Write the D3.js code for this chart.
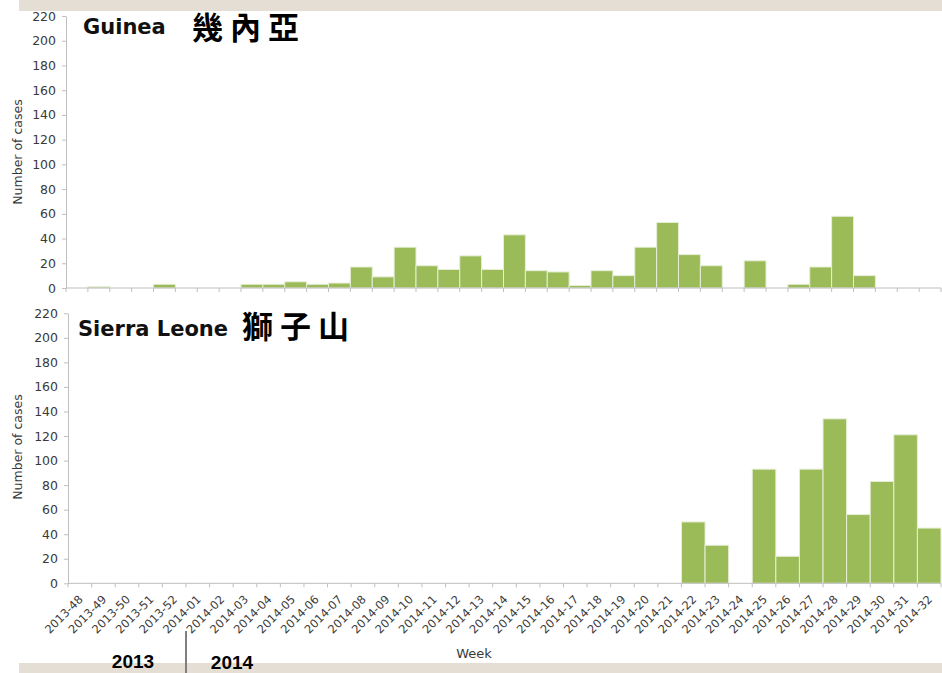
<!DOCTYPE html>
<html>
<head>
<meta charset="utf-8">
<script src="https://cdn.jsdelivr.net/npm/d3@7"></script>
<style>
  html, body { margin: 0; padding: 0; background: #fff; }
  svg { display: block; }
</style>
</head>
<body>
<svg id="chart" width="942" height="673"></svg>
<script>
// ---- Data ----
const weeks = ["2013-48","2013-49","2013-50","2013-51","2013-52",
  "2014-01","2014-02","2014-03","2014-04","2014-05","2014-06","2014-07","2014-08","2014-09","2014-10",
  "2014-11","2014-12","2014-13","2014-14","2014-15","2014-16","2014-17","2014-18","2014-19","2014-20",
  "2014-21","2014-22","2014-23","2014-24","2014-25","2014-26","2014-27","2014-28","2014-29","2014-30",
  "2014-31","2014-32"];
const guineaWeeks = weeks.concat(["2014-33","2014-34","2014-35"]);
const guineaCases = [0,1,0,0,3,0,0,0,3,3,5,3,4,17,9,33,18,15,26,15,43,14,13,2,14,10,
  33,53,27,18,0,22,0,3,17,58,10,0,0,0];
const sierraCases = [0,0,0,0,0,0,0,0,0,0,0,0,0,0,0,0,0,0,0,0,0,0,0,0,0,0,
  50,31,0,93,22,93,134,56,83,121,45];
const yTicks = [0,20,40,60,80,100,120,140,160,180,200,220];
const titlesEn = ["Guinea", "Sierra Leone"];
const titlesZh = ["幾內亞", "獅子山"];
const yTitle = "Number of cases";
const xTitle = "Week";
const years = ["2013", "2014"];

// ---- Drawing ----
const svg = d3.select("#chart");
const barColor = "#9bbb59";
const axisColor = "#bfbfbf";
const textColor = "#3a3a3a";

// beige bands
svg.append("rect").attr("x", 19).attr("y", 0).attr("width", 923).attr("height", 11).attr("fill", "#e4ded4");
svg.append("rect").attr("x", 19).attr("y", 663).attr("width", 923).attr("height", 10).attr("fill", "#e4ded4");

function panel(cfg) {
  const x = d3.scaleBand().domain(cfg.cats).range([cfg.x0, cfg.x1]).padding(0);
  const y = d3.scaleLinear().domain([0, 220]).range([cfg.yb, cfg.yt]);
  const g = svg.append("g");

  // bars
  g.selectAll("rect.bar").data(cfg.values.map((v, i) => ({c: cfg.cats[i], v})).filter(d => d.v > 0))
    .enter().append("rect").attr("class", "bar")
    .attr("x", d => x(d.c))
    .attr("width", x.bandwidth())
    .attr("y", d => y(d.v))
    .attr("height", d => y(0) - y(d.v))
    .attr("fill", barColor)
    .attr("stroke", "#e6eed6")
    .attr("stroke-width", 1);

  // y axis
  const ya = g.append("g").attr("transform", `translate(${cfg.x0},0)`)
    .call(d3.axisLeft(y).tickValues(yTicks).tickSize(4).tickSizeOuter(0).tickPadding(6));
  ya.select(".domain").attr("stroke", axisColor);
  ya.selectAll(".tick line").attr("stroke", axisColor);
  ya.selectAll(".tick text").attr("fill", textColor)
    .style("font-family", "'DejaVu Sans', sans-serif").style("font-size", "12.5px");

  // x axis: ticks at category boundaries
  const xa = g.append("g").attr("transform", `translate(0,${cfg.yb})`);
  xa.append("line").attr("x1", cfg.x0).attr("x2", cfg.x1).attr("y1", 0).attr("y2", 0).attr("stroke", axisColor);
  xa.selectAll("line.tk").data(cfg.cats).enter().append("line").attr("class", "tk")
    .attr("x1", d => x(d) + x.bandwidth()).attr("x2", d => x(d) + x.bandwidth())
    .attr("y1", 0).attr("y2", 4).attr("stroke", axisColor);
  xa.append("line").attr("x1", cfg.x0).attr("x2", cfg.x0).attr("y1", 0).attr("y2", 4).attr("stroke", axisColor);

  if (cfg.labels) {
    xa.selectAll("text.lbl").data(cfg.cats).enter().append("text").attr("class", "lbl")
      .attr("transform", d => `translate(${x(d) + x.bandwidth() / 2 + 1},${14}) rotate(-45)`)
      .attr("text-anchor", "end")
      .attr("dy", "0.35em")
      .attr("fill", textColor)
      .style("font-family", "'DejaVu Sans', sans-serif").style("font-size", "11.5px")
      .text(d => d);
  }

  // y title
  svg.append("text")
    .attr("transform", `translate(22,${cfg.ytc}) rotate(-90)`)
    .attr("text-anchor", "middle")
    .attr("fill", textColor)
    .style("font-family", "'DejaVu Sans', sans-serif").style("font-size", "12.5px")
    .text(yTitle);

  // titles
  svg.append("text").attr("x", cfg.tx).attr("y", cfg.ty)
    .attr("fill", "#111")
    .style("font-family", "'DejaVu Sans', sans-serif").style("font-weight", "bold").style("font-size", "21px")
    .text(cfg.title);
  svg.append("text").attr("x", cfg.zx).attr("y", cfg.zy)
    .attr("fill", "#000")
    .style("font-family", "'Noto Sans CJK TC', sans-serif").style("font-weight", "bold").style("font-size", "31px")
    .style("letter-spacing", "7px")
    .text(cfg.zh);
}

panel({cats: guineaWeeks, values: guineaCases, x0: 66, x1: 941, yb: 288, yt: 16, ytc: 152,
  labels: false, title: titlesEn[0], tx: 83, ty: 34, zh: titlesZh[0], zx: 192, zy: 39});
panel({cats: weeks, values: sierraCases, x0: 68, x1: 941, yb: 583.3, yt: 313.3, ytc: 447,
  labels: true, title: titlesEn[1], tx: 78, ty: 336, zh: titlesZh[1], zx: 242, zy: 338});

// x title
svg.append("text").attr("x", 474).attr("y", 658).attr("text-anchor", "middle")
  .attr("fill", textColor)
  .style("font-family", "'DejaVu Sans', sans-serif").style("font-size", "13px")
  .text(xTitle);

// year divider
svg.append("line").attr("x1", 186).attr("x2", 186).attr("y1", 631).attr("y2", 673)
  .attr("stroke", "#7f7f7f").attr("stroke-width", 2);
svg.append("text").attr("x", 133).attr("y", 668).attr("text-anchor", "middle")
  .style("font-family", "'Liberation Sans', Arial, sans-serif").style("font-weight", "bold").style("font-size", "19px")
  .attr("fill", "#000").text(years[0]);
svg.append("text").attr("x", 232).attr("y", 669).attr("text-anchor", "middle")
  .style("font-family", "'Liberation Sans', Arial, sans-serif").style("font-weight", "bold").style("font-size", "19px")
  .attr("fill", "#000").text(years[1]);
</script>
</body>
</html>
